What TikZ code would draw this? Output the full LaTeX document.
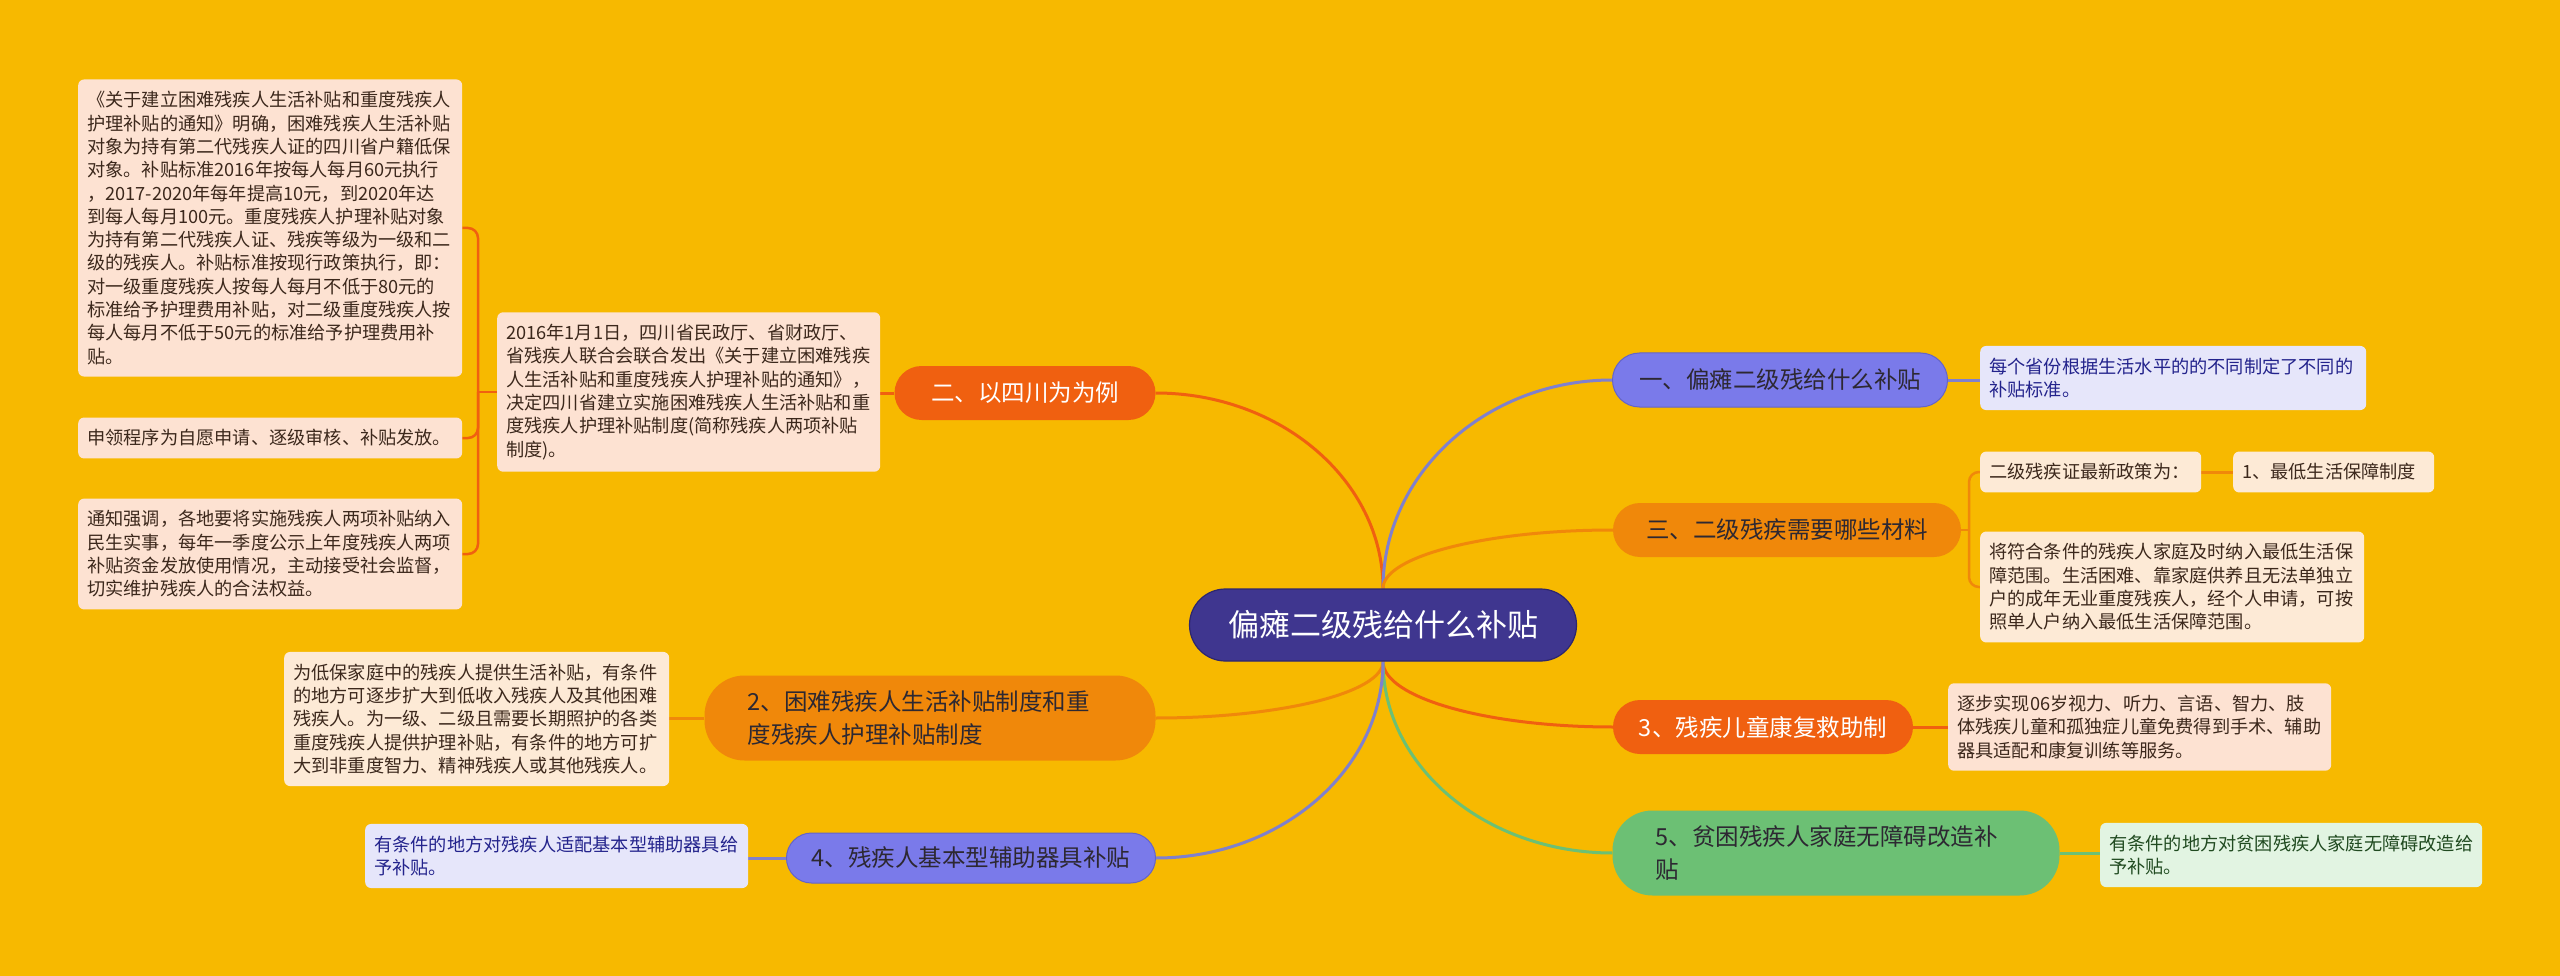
\documentclass[tikz,border=0pt]{standalone}
\usepackage{fontspec}
\newfontfamily\cjk{Noto Sans CJK SC}
\usetikzlibrary{calc}
\pgfdeclarelayer{bg}
\pgfsetlayers{bg,main}
\definecolor{bgc}{RGB}{247,185,0}
\definecolor{centerF}{RGB}{63,54,143}
\definecolor{centerD}{RGB}{45,38,110}
\definecolor{periF}{RGB}{122,122,234}
\definecolor{periD}{RGB}{100,100,200}
\definecolor{periLine}{RGB}{128,128,205}
\definecolor{orangeF}{RGB}{240,136,10}
\definecolor{redF}{RGB}{240,96,16}
\definecolor{greenF}{RGB}{108,192,116}
\definecolor{greenLine}{RGB}{108,192,116}
\definecolor{pinkL}{RGB}{253,226,210}
\definecolor{creamL}{RGB}{253,234,214}
\definecolor{lavL}{RGB}{230,230,250}
\definecolor{greenL}{RGB}{226,244,226}
\definecolor{brownT}{RGB}{60,40,28}
\definecolor{navyT}{RGB}{35,35,140}
\definecolor{greenT}{RGB}{32,74,32}
\definecolor{darkT}{RGB}{45,40,50}
\newcommand{\mmcurve}[3]{\draw[conn, draw=#1] (#2) .. controls ($(#2)!0.55!(#2 |- #3)$) and ($(#3)!0.55!(#2 |- #3)$) .. (#3);}
\begin{document}
\begin{tikzpicture}[x=1pt,y=-1pt,
  leaf/.style={rounded corners=6pt, inner xsep=9pt, inner ysep=12pt, align=left, anchor=west,
    font=\cjk\fontsize{18.2}{23.3}\selectfont},
  pinkleaf/.style={leaf, fill=pinkL, text=brownT},
  creamleaf/.style={leaf, fill=creamL, text=brownT},
  lavleaf/.style={leaf, fill=lavL, text=navyT},
  greenleaf/.style={leaf, fill=greenL, text=greenT},
  branch/.style={rounded corners=27pt, minimum height=54pt, inner sep=0pt,
    font=\cjk\fontsize{23.5}{32}\selectfont},
  branchtwo/.style={rounded corners=40pt, minimum height=85pt, inner xsep=43pt, inner ysep=8pt,
    align=left, font=\cjk\fontsize{23.5}{33}\selectfont},
  conn/.style={line width=3pt},
  sub/.style={line width=3pt},
  brk/.style={line width=2.5pt, rounded corners=10pt}
]
\begin{pgfonlayer}{bg}
\fill[bgc] (0,0) rectangle (2560,976);
\end{pgfonlayer}
\useasboundingbox (0,0) rectangle (2560,976);

% central node
\node[rounded corners=36pt, minimum width=387pt, minimum height=72pt, inner sep=0pt,
  fill=centerF, draw=centerD, line width=1.2pt, text=white,
  font=\cjk\fontsize{31}{36}\selectfont] (c) at (1383,625) {偏瘫二级残给什么补贴};

% right branches
\node[branch, minimum width=335pt, fill=periF, draw=periD, line width=1pt, text=darkT] (n1) at (1780,380) {一、偏瘫二级残给什么补贴};
\node[branch, minimum width=348pt, fill=orangeF, text=darkT] (n3) at (1787,530) {三、二级残疾需要哪些材料};
\node[branch, minimum width=300pt, fill=redF, text=white] (nk3) at (1763,727) {3、残疾儿童康复救助制};
\node[branchtwo, text width=361pt, fill=greenF, text=darkT] (n5) at (1836,853) {5、贫困残疾人家庭无障碍改造补\\贴};

% left branches
\node[branch, minimum width=261pt, fill=redF, text=white] (n2) at (1025,393) {二、以四川为为例};
\node[branchtwo, text width=365pt, fill=orangeF, text=darkT] (nk2) at (930,718) {2、困难残疾人生活补贴制度和重\\度残疾人护理补贴制度};
\node[branch, minimum width=369pt, minimum height=50pt, rounded corners=25pt, fill=periF, draw=periD, line width=1pt, text=darkT] (nk4) at (971,858) {4、残疾人基本型辅助器具补贴};

% right leaves
\node[lavleaf, text width=368pt] (R1) at (1980,378) {每个省份根据生活水平的的不同制定了不同的\\补贴标准。};
\node[creamleaf, text width=203pt] (R3a) at (1980,472) {二级残疾证最新政策为：};
\node[creamleaf, text width=183pt] (R3b) at (2233,472) {1、最低生活保障制度};
\node[creamleaf, text width=366pt] (R3c) at (1980,587) {将符合条件的残疾人家庭及时纳入最低生活保\\障范围。生活困难、靠家庭供养且无法单独立\\户的成年无业重度残疾人，经个人申请，可按\\照单人户纳入最低生活保障范围。};
\node[pinkleaf, text width=365pt] (R3d) at (1948,727) {逐步实现06岁视力、听力、言语、智力、肢\\体残疾儿童和孤独症儿童免费得到手术、辅助\\器具适配和康复训练等服务。};
\node[greenleaf, text width=364pt] (R5) at (2100,855) {有条件的地方对贫困残疾人家庭无障碍改造给\\予补贴。};

% left leaves
\node[pinkleaf, text width=365pt] (P) at (497,392) {2016年1月1日，四川省民政厅、省财政厅、\\省残疾人联合会联合发出《关于建立困难残疾\\人生活补贴和重度残疾人护理补贴的通知》，\\决定四川省建立实施困难残疾人生活补贴和重\\度残疾人护理补贴制度(简称残疾人两项补贴\\制度)。};
\node[pinkleaf, text width=366pt] (B1) at (78,228) {《关于建立困难残疾人生活补贴和重度残疾人\\护理补贴的通知》明确，困难残疾人生活补贴\\对象为持有第二代残疾人证的四川省户籍低保\\对象。补贴标准2016年按每人每月60元执行\\，2017-2020年每年提高10元，到2020年达\\到每人每月100元。重度残疾人护理补贴对象\\为持有第二代残疾人证、残疾等级为一级和二\\级的残疾人。补贴标准按现行政策执行，即：\\对一级重度残疾人按每人每月不低于80元的\\标准给予护理费用补贴，对二级重度残疾人按\\每人每月不低于50元的标准给予护理费用补\\贴。};
\node[pinkleaf, text width=366pt] (B2) at (78,438) {申领程序为自愿申请、逐级审核、补贴发放。};
\node[pinkleaf, text width=366pt] (B3) at (78,554) {通知强调，各地要将实施残疾人两项补贴纳入\\民生实事，每年一季度公示上年度残疾人两项\\补贴资金发放使用情况，主动接受社会监督，\\切实维护残疾人的合法权益。};
\node[creamleaf, text width=367pt] (L2) at (284,719) {为低保家庭中的残疾人提供生活补贴，有条件\\的地方可逐步扩大到低收入残疾人及其他困难\\残疾人。为一级、二级且需要长期照护的各类\\重度残疾人提供护理补贴，有条件的地方可扩\\大到非重度智力、精神残疾人或其他残疾人。};
\node[lavleaf, text width=365pt] (L4) at (365,856) {有条件的地方对残疾人适配基本型辅助器具给\\予补贴。};

\coordinate (lbx) at (478,392);
\coordinate (rbx) at (1969,530);

\begin{pgfonlayer}{bg}
% main connectors
\mmcurve{redF}{c.north}{n2.east}
\mmcurve{periLine}{c.north}{n1.west}
\mmcurve{orangeF}{c.north}{n3.west}
\mmcurve{redF}{c.south}{nk3.west}
\mmcurve{greenLine}{c.south}{n5.west}
\mmcurve{orangeF}{c.south}{nk2.east}
\mmcurve{periLine}{c.south}{nk4.east}
% sub connectors
\draw[sub, draw=periLine] (n1.east) -- (n1.east -| R1.west);
\draw[sub, draw=orangeF] (R3a.east) -- (R3a.east -| R3b.west);
\draw[sub, draw=redF] (nk3.east) -- (nk3.east -| R3d.west);
\draw[sub, draw=greenLine] (n5.east) -- (n5.east -| R5.west);
\draw[sub, draw=redF] (n2.west) -- (n2.west -| P.east);
\draw[sub, draw=orangeF] (nk2.west) -- (nk2.west -| L2.east);
\draw[sub, draw=periLine] (nk4.west) -- (nk4.west -| L4.east);
% brackets
\draw[brk, draw=orangeF] (n3.east) -- (rbx);
\draw[brk, draw=orangeF] (R3a.west) -| (rbx) |- (R3c.west);
\draw[brk, draw=redF] (P.west) -- (lbx);
\draw[brk, draw=redF] (B1.east) -| (lbx) |- (B3.east);
\draw[brk, draw=redF] (lbx) |- (B2.east);
\end{pgfonlayer}
\end{tikzpicture}
\end{document}
